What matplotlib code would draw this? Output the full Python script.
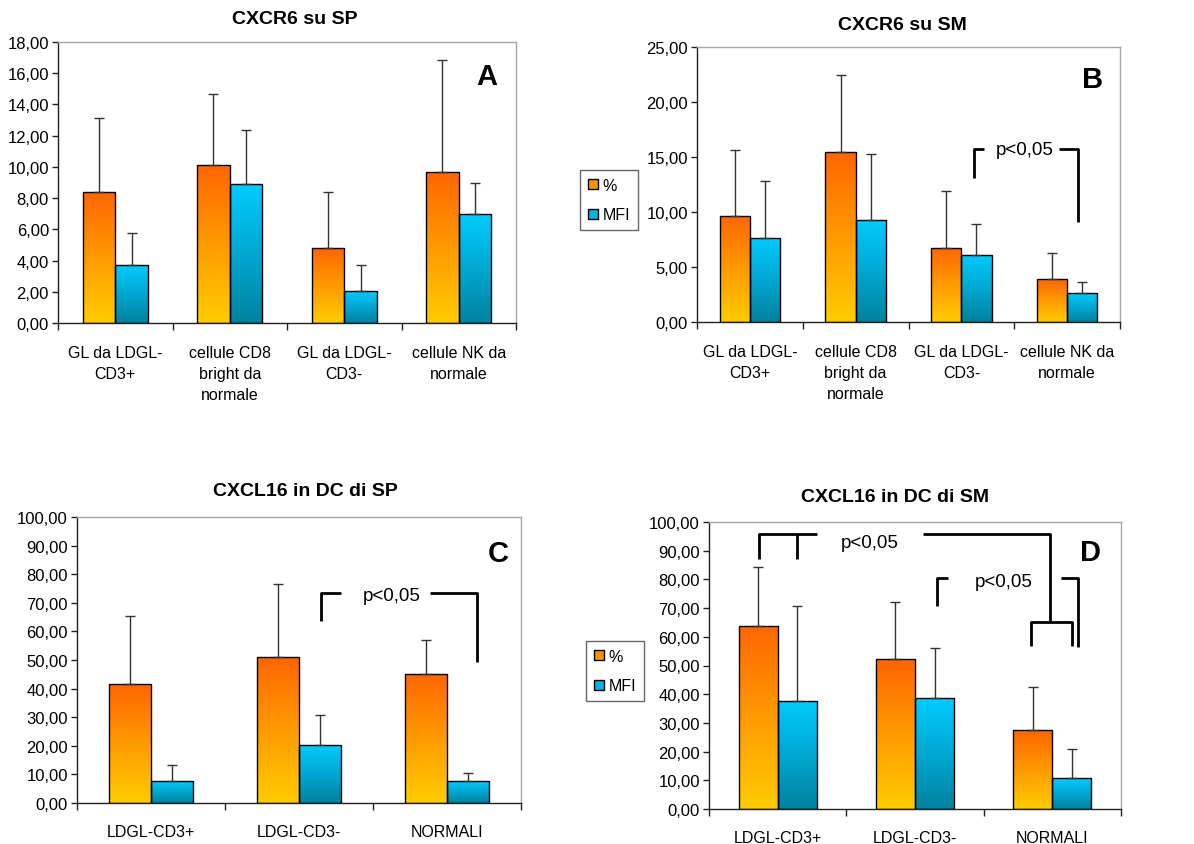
import numpy as np
import matplotlib
matplotlib.use("Agg")
import matplotlib.pyplot as plt
from matplotlib.colors import LinearSegmentedColormap
from matplotlib.patches import Patch
from matplotlib.ticker import FixedLocator, FuncFormatter

plt.rcParams['font.family'] = ['Liberation Sans', 'DejaVu Sans']

# ---------------- data ----------------
series_names = ["%", "MFI"]

cat_AB = ["GL da LDGL-\nCD3+", "cellule CD8\nbright da\nnormale",
          "GL da LDGL-\nCD3-", "cellule NK da\nnormale"]
cat_CD = ["LDGL-CD3+", "LDGL-CD3-", "NORMALI"]

A_pct = [8.37, 10.14, 4.78, 9.65]
A_pct_err = [4.74, 4.51, 3.59, 7.22]
A_mfi = [3.74, 8.93, 2.07, 6.96]
A_mfi_err = [2.03, 3.41, 1.67, 1.99]

B_pct = [9.64, 15.42, 6.76, 3.88]
B_pct_err = [6.03, 7.00, 5.12, 2.36]
B_mfi = [7.64, 9.27, 6.12, 2.64]
B_mfi_err = [5.15, 6.03, 2.76, 1.00]

C_pct = [41.7, 51.0, 45.2]
C_pct_err = [23.7, 25.5, 11.7]
C_mfi = [7.7, 20.4, 7.7]
C_mfi_err = [5.5, 10.3, 2.9]

D_pct = [63.9, 52.2, 27.5]
D_pct_err = [20.4, 20.0, 15.1]
D_mfi = [37.7, 38.6, 10.8]
D_mfi_err = [33.1, 17.5, 10.0]

titles = ["CXCR6 su SP", "CXCR6 su SM", "CXCL16 in DC di SP", "CXCL16 in DC di SM"]
letters = ["A", "B", "C", "D"]
yticks_AB = [list(range(0, 19, 2)), list(range(0, 26, 5))]
yticks_CD = list(range(0, 101, 10))

# ---------------- styling ----------------
W, H = 1194, 845
fig = plt.figure(figsize=(W / 100, H / 100), dpi=100)

pct_cmap = LinearSegmentedColormap.from_list("pct", ["#FFCC00", "#FF9A00", "#FF6600"])
mfi_cmap = LinearSegmentedColormap.from_list("mfi", ["#00829F", "#00A8D2", "#00CCFF"])
grad = np.linspace(0, 1, 256).reshape(-1, 1)

TICK_FS = 12
CAT_FS = 11.5
BW = 0.285


def ax_px(left, right, top, bottom):
    return fig.add_axes([left / W, 1 - bottom / H, (right - left) / W, (bottom - top) / H])


def gradient_bars(ax, bars, cmap):
    for b in bars:
        x, y, w, h = b.get_x(), b.get_y(), b.get_width(), b.get_height()
        im = ax.imshow(grad, extent=[x, x + w, y, y + h], origin="lower",
                       aspect="auto", cmap=cmap, zorder=1.5, interpolation="bilinear")
        im.set_clip_path(b)


def panel(ax, cats, pct, pct_err, mfi, mfi_err, yticks, ymax, xlabel_pad):
    n = len(cats)
    x = np.arange(n)
    b1 = ax.bar(x - BW / 2, pct, BW, facecolor="none", edgecolor="black", linewidth=1.0, zorder=2)
    b2 = ax.bar(x + BW / 2, mfi, BW, facecolor="none", edgecolor="black", linewidth=1.0, zorder=2)
    gradient_bars(ax, b1, pct_cmap)
    gradient_bars(ax, b2, mfi_cmap)
    ax.errorbar(x - BW / 2, pct, yerr=[np.zeros(n), pct_err], fmt="none",
                ecolor="#333333", elinewidth=1.0, capsize=3.5, capthick=1.0, zorder=3)
    ax.errorbar(x + BW / 2, mfi, yerr=[np.zeros(n), mfi_err], fmt="none",
                ecolor="#333333", elinewidth=1.0, capsize=3.5, capthick=1.0, zorder=3)
    ax.set_xlim(-0.5, n - 0.5)
    ax.set_ylim(0, ymax)
    ax.set_yticks(yticks)
    ax.yaxis.set_major_formatter(FuncFormatter(lambda v, p: f"{v:.2f}".replace(".", ",")))
    ax.set_xticks(x)
    ax.set_xticklabels(cats, fontsize=CAT_FS, linespacing=1.48)
    ax.xaxis.set_minor_locator(FixedLocator(np.arange(n + 1) - 0.5))
    ax.tick_params(axis="x", which="major", length=0, pad=xlabel_pad)
    ax.tick_params(axis="x", which="minor", length=5, width=1, color="#202020", direction="out")
    ax.tick_params(axis="y", length=4, width=1, color="#202020", direction="out",
                   labelsize=TICK_FS, pad=2.5)
    for s in ["left", "bottom"]:
        ax.spines[s].set_color("#202020")
        ax.spines[s].set_linewidth(1.0)
    for s in ["top", "right"]:
        ax.spines[s].set_color("#a6a6a6")
        ax.spines[s].set_linewidth(1.0)
    ax.set_facecolor("white")


def seg(ax, xs, ys):
    ax.plot(xs, ys, color="black", lw=2.0, clip_on=False, zorder=4, solid_capstyle="butt")


axA = ax_px(58, 516, 43, 324)
axB = ax_px(697, 1120, 48, 323)
axC = ax_px(77, 521, 518, 804)
axD = ax_px(709, 1121, 523, 810)

panel(axA, cat_AB, A_pct, A_pct_err, A_mfi, A_mfi_err, yticks_AB[0], 18, 16)
panel(axB, cat_AB, B_pct, B_pct_err, B_mfi, B_mfi_err, yticks_AB[1], 25, 16)
panel(axC, cat_CD, C_pct, C_pct_err, C_mfi, C_mfi_err, yticks_CD, 100, 15)
panel(axD, cat_CD, D_pct, D_pct_err, D_mfi, D_mfi_err, yticks_CD, 100, 15)

# titles and panel letters
for (cx, cy), t in zip([(295, 20), (902, 26), (305, 492), (895, 498)], titles):
    fig.text(cx / W, 1 - cy / H, t, ha="center", va="center", fontsize=14, fontweight="bold")
for (cx, cy), t in zip([(487, 77), (1093, 80), (498, 554), (1090, 553)], letters):
    fig.text(cx / W, 1 - cy / H, t, ha="center", va="center", fontsize=21, fontweight="bold")

PFS = 13.5
# significance bracket B
seg(axB, [2.124, 2.124, 2.215], [13.1, 15.7, 15.7])
seg(axB, [2.927, 3.106, 3.106], [15.7, 15.7, 9.1])
axB.text(2.6, 15.7, "p<0,05", ha="center", va="center", fontsize=PFS, zorder=5)

# significance bracket C
seg(axC, [1.149, 1.149, 1.284], [63.5, 73.4, 73.4])
seg(axC, [1.887, 2.203, 2.203], [73.4, 73.4, 49.3])
axC.text(1.624, 72.4, "p<0,05", ha="center", va="center", fontsize=PFS, zorder=5)

# significance brackets D
seg(axD, [-0.133, -0.133, 0.286], [87.2, 95.7, 95.7])
seg(axD, [0.141, 0.141], [95.7, 87.2])
seg(axD, [1.06, 1.98, 1.98], [95.7, 95.7, 65.3])
seg(axD, [1.845, 1.845, 2.141, 2.141], [56.8, 65.3, 65.3, 56.8])
axD.text(0.667, 92.8, "p<0,05", ha="center", va="center", fontsize=PFS, zorder=5)
seg(axD, [1.158, 1.158, 1.238], [70.6, 80.4, 80.4])
seg(axD, [2.063, 2.189, 2.189], [80.4, 80.4, 56.3])
axD.text(1.648, 79.1, "p<0,05", ha="center", va="center", fontsize=PFS, zorder=5)

# legends
handles = [Patch(facecolor="#FF9400", edgecolor="black", linewidth=1.0, label=series_names[0]),
           Patch(facecolor="#00B4E0", edgecolor="black", linewidth=1.0, label=series_names[1])]
for (lx, ly) in [(580, 171), (586, 642)]:
    leg = fig.legend(handles=handles, loc="upper left", bbox_to_anchor=(lx / W, 1 - ly / H),
                     fontsize=11.5, frameon=True, fancybox=False, handlelength=0.6,
                     handleheight=0.6, handletextpad=0.3, labelspacing=0.9,
                     borderpad=0.5, borderaxespad=0.0)
    leg.get_frame().set_edgecolor("#404040")
    leg.get_frame().set_linewidth(1.0)

fig.savefig("out.png", dpi=100, facecolor="white")
